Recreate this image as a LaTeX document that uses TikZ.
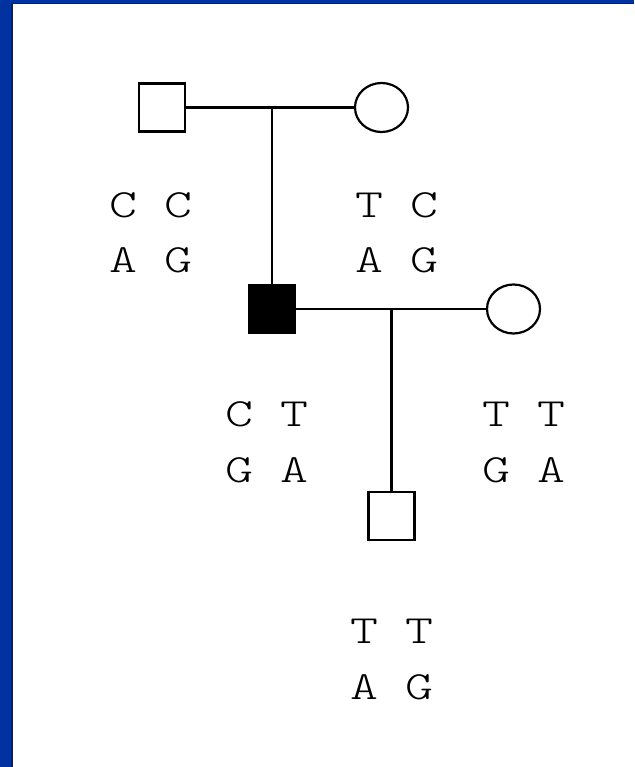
\documentclass[tikz,border=0pt]{standalone}
\usepackage{fontspec}
\setmonofont{Latin Modern Mono Light}[FakeStretch=1.33]
\usetikzlibrary{shapes.geometric}
\definecolor{frameblue}{RGB}{0,51,160}
\definecolor{frameedge}{RGB}{30,30,40}
\tikzset{
  line/.style={line width=2.2pt, black},
  male/.style={draw, line width=2.2pt, rectangle, minimum width=46pt, minimum height=48pt, inner sep=0pt},
  female/.style={draw, line width=2.2pt, ellipse, minimum width=53pt, minimum height=49pt, inner sep=0pt},
  gt/.style={anchor=base, inner sep=0pt, font=\ttfamily\fontsize{40}{48}\selectfont}
}
\begin{document}
\begin{tikzpicture}[x=1pt, y=-1pt]
  % frame
  \fill[frameblue] (0,0) rectangle (634,767);
  \fill[frameedge] (11,3) rectangle (634,767);
  \fill[white] (12.5,4.5) rectangle (634,767);
  \useasboundingbox (0,0) rectangle (634,767);

  % generation 1
  \node[male] (gf) at (162,107.5) {};
  \node[female] (gm) at (381.5,107.5) {};
  \coordinate (m1) at (272,108);
  % generation 2
  \node[male, fill=black] (f) at (272,309) {};
  \node[female] (m) at (513.5,309) {};
  \coordinate (m2) at (391.5,310);
  % generation 3
  \node[male] (c) at (391.5,516) {};

  \draw[line] (gf.east) -- (gm.west);
  \draw[line] (m1) -- (f.north);
  \draw[line] (f.east) -- (m.west);
  \draw[line] (m2) -- (c.north);

  % genotypes
  \node[gt] (g1a) at (151,218) {C C};
  \node[gt] (g1b) at (151,272) {A G};
  \node[gt] (g2a) at (397,218) {T C};
  \node[gt] (g2b) at (397,272) {A G};
  \node[gt] (g3a) at (267,426) {C T};
  \node[gt] (g3b) at (267,482) {G A};
  \node[gt] (g4a) at (524,426) {T T};
  \node[gt] (g4b) at (524,482) {G A};
  \node[gt] (g5a) at (392,643) {T T};
  \node[gt] (g5b) at (392,699) {A G};
\end{tikzpicture}
\end{document}
